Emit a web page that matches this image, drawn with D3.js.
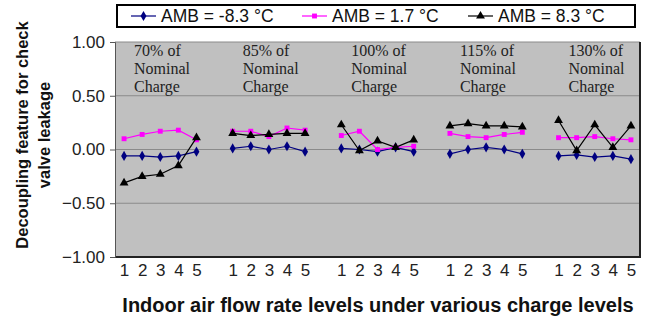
<!DOCTYPE html>
<html><head><meta charset="utf-8">
<script src="https://cdn.jsdelivr.net/npm/d3@7"></script>
<style>body{margin:0;background:#fff}svg{display:block}</style>
</head><body><svg id="c" width="647" height="323"></svg>
<script>
const groups = ["70%", "85%", "100%", "115%", "130%"];
const groupLabels = [["70% of","Nominal","Charge"],["85% of","Nominal","Charge"],["100% of","Nominal","Charge"],["115% of","Nominal","Charge"],["130% of","Nominal","Charge"]];
const levels = ["1", "2", "3", "4", "5"];
const yTicks = [1, 0.5, 0, -0.5, -1];
const seriesNames = ["AMB = -8.3 °C", "AMB = 1.7 °C", "AMB = 8.3 °C"];
const ambNeg83 = [
  -0.06, -0.06, -0.07, -0.06, -0.02,
   0.01,  0.03,  0.00,  0.03, -0.02,
   0.01,  0.00, -0.02,  0.02, -0.02,
  -0.04,  0.00,  0.02,  0.00, -0.04,
  -0.06, -0.05, -0.07, -0.06, -0.09];
const amb17 = [
   0.10,  0.14,  0.17,  0.18,  0.09,
   0.17,  0.17,  0.12,  0.20,  0.18,
   0.13,  0.17,  0.00,  0.02,  0.03,
   0.15,  0.12,  0.11,  0.14,  0.16,
   0.11,  0.11,  0.12,  0.10,  0.09];
const amb83 = [
  -0.31, -0.25, -0.23, -0.15,  0.11,
   0.15,  0.13,  0.14,  0.15,  0.15,
   0.23, -0.01,  0.08,  0.02,  0.09,
   0.22,  0.24,  0.22,  0.22,  0.21,
   0.27, -0.01,  0.23,  0.02,  0.22];
const seriesValues = [ambNeg83, amb17, amb83];
const colors = ["#000080", "#ff00ff", "#000000"];
const markers = [d3.symbolDiamond, d3.symbolSquare, d3.symbolTriangle];
const markerSizes = [30, 24, 34];

const sans = "Arial, 'Liberation Sans', sans-serif";
const svg = d3.select("#c");
const L = 115, R = 640, T = 42, B = 257;

const keys = [];
groups.forEach((g, gi) => {
  levels.forEach(l => keys.push(g + "-" + l));
  if (gi < groups.length - 1) keys.push("gap" + gi);
});
const x = d3.scalePoint().domain(keys).range([L, R]).padding(0.5);
const y = d3.scaleLinear().domain([-1, 1]).range([B, T]);

svg.append("rect").attr("x", L).attr("y", T).attr("width", R - L).attr("height", B - T)
  .attr("fill", "#c0c0c0");
svg.append("g").selectAll("line").data(yTicks.filter(v => v > -1 && v < 1)).join("line")
  .attr("x1", L).attr("x2", R).attr("y1", d => y(d)).attr("y2", d => y(d))
  .attr("stroke", "#8a8a8a").attr("stroke-width", 1);
svg.append("line").attr("x1", L).attr("x2", R).attr("y1", T).attr("y2", T).attr("stroke", "#8a8a8a");
svg.append("line").attr("x1", R).attr("x2", R).attr("y1", T).attr("y2", B + 1).attr("stroke", "#222").attr("stroke-width", 2);
svg.append("line").attr("x1", L).attr("x2", R + 1).attr("y1", B).attr("y2", B).attr("stroke", "#222").attr("stroke-width", 2);

const yAxis = d3.axisLeft(y).tickValues(yTicks).tickFormat(d3.format(".2f")).tickSize(5).tickPadding(5);
const ya = svg.append("g").attr("transform", `translate(${L},0)`).call(yAxis);
ya.select(".domain").attr("stroke", "#555");
ya.selectAll(".tick line").attr("stroke", "#555");
ya.selectAll("text").attr("font-family", sans).attr("font-size", 17).attr("fill", "#222");

const xa = svg.append("g").attr("transform", `translate(0,${B})`)
  .call(d3.axisBottom(x).tickValues(keys.filter(k => !k.startsWith("gap"))).tickFormat(k => k.split("-")[1]).tickSize(0).tickPadding(7));
xa.select(".domain").remove();
xa.selectAll("text").attr("font-family", sans).attr("font-size", 17).attr("fill", "#222");

groupLabels.forEach((lines, gi) => {
  const x0 = x(groups[gi] + "-1") + 10;
  lines.forEach((ln, i) => svg.append("text")
    .attr("font-family", "'Liberation Serif', 'Times New Roman', serif")
    .attr("font-size", 16).attr("fill", "#222")
    .attr("x", x0).attr("y", 56 + i * 17.8).text(ln));
});

seriesValues.forEach((vals, si) => {
  const g = svg.append("g");
  groups.forEach((gr, gi) => {
    const pts = levels.map((l, li) => ({k: gr + "-" + l, v: vals[gi * 5 + li]}));
    g.append("path").datum(pts)
      .attr("d", d3.line().x(d => x(d.k)).y(d => y(d.v)))
      .attr("fill", "none").attr("stroke", colors[si]).attr("stroke-width", 1.2);
    g.selectAll(null).data(pts).join("path")
      .attr("transform", d => `translate(${x(d.k)},${y(d.v)})`)
      .attr("d", d3.symbol().type(markers[si]).size(markerSizes[si]))
      .attr("fill", colors[si]);
  });
});

svg.append("text").attr("transform", "translate(28,135) rotate(-90)").attr("text-anchor", "middle")
  .attr("font-family", sans).attr("font-weight", "bold").attr("font-size", 16.5).attr("fill", "#111")
  .text("Decoupling feature for check");
svg.append("text").attr("transform", "translate(50,135) rotate(-90)").attr("text-anchor", "middle")
  .attr("font-family", sans).attr("font-weight", "bold").attr("font-size", 16.5).attr("fill", "#111")
  .text("valve leakage");
svg.append("text").attr("x", 378).attr("y", 312).attr("text-anchor", "middle")
  .attr("font-family", sans).attr("font-weight", "bold").attr("font-size", 20).attr("fill", "#111")
  .text("Indoor air flow rate levels under various charge levels");

svg.append("rect").attr("x", 117).attr("y", 5).attr("width", 518).attr("height", 22)
  .attr("fill", "#fff").attr("stroke", "#000").attr("stroke-width", 2);
const legX = [131, 302, 468];
seriesNames.forEach((n, i) => {
  const lg = svg.append("g").attr("transform", `translate(${legX[i]},16)`);
  lg.append("line").attr("x1", 0).attr("x2", 25).attr("stroke", colors[i]).attr("stroke-width", 1.2);
  lg.append("path").attr("transform", "translate(12.5,0)").attr("d", d3.symbol().type(markers[i]).size(markerSizes[i])).attr("fill", colors[i]);
  lg.append("text").attr("x", 30).attr("y", 6).attr("font-family", sans)
    .attr("font-size", 17.5).attr("fill", "#111").text(n);
});
</script></body></html>
